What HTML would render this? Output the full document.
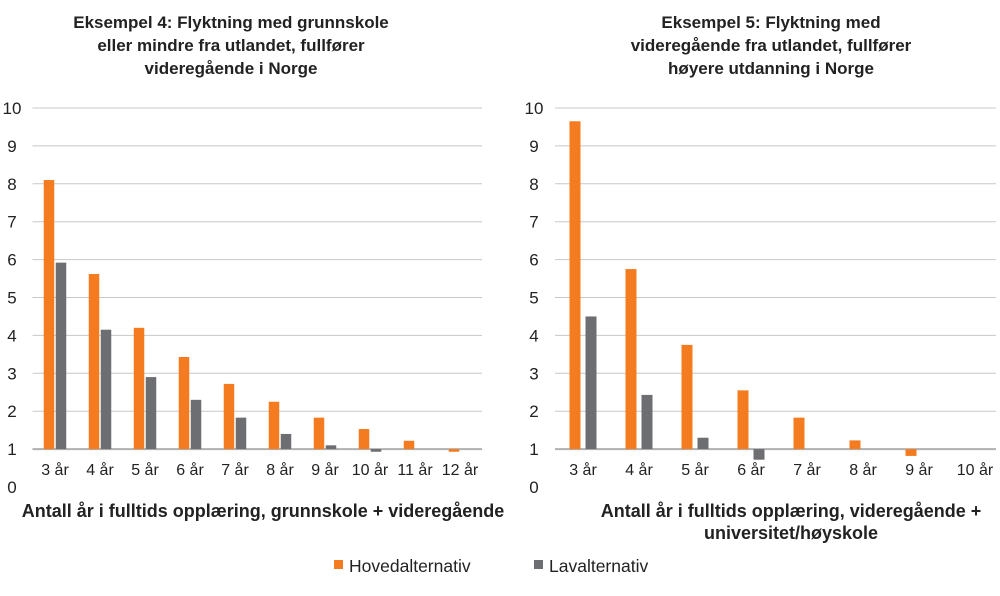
<!DOCTYPE html>
<html><head><meta charset="utf-8"><style>
body{margin:0;background:#fff;}
svg text{font-family:"Liberation Sans",sans-serif;fill:#222;}
</style></head><body>
<svg width="1000" height="591">
<g id="left"></g>
<g id="right"></g>
<g>
<rect x="334" y="560" width="9" height="9" fill="#f47b20"/>
<text x="349" y="572" font-size="17.5">Hovedalternativ</text>
<rect x="534" y="560" width="9" height="9" fill="#6d6e71"/>
<text x="549" y="572" font-size="17.5">Lavalternativ</text>
</g>
</svg>
<script>
const leftCategories=["3 år","4 år","5 år","6 år","7 år","8 år","9 år","10 år","11 år","12 år"];
const leftHoved=[8.1,5.62,4.2,3.43,2.72,2.25,1.83,1.53,1.22,0.93];
const leftLav=[5.92,4.15,2.9,2.3,1.83,1.4,1.1,0.93,null,null];
const rightCategories=["3 år","4 år","5 år","6 år","7 år","8 år","9 år","10 år"];
const rightHoved=[9.65,5.75,3.75,2.55,1.83,1.23,0.82,null];
const rightLav=[4.5,2.43,1.3,0.72,null,null,null,null];
const yTicks=[0,1,2,3,4,5,6,7,8,9,10];
const NS="http://www.w3.org/2000/svg";
function mk(p,tag,a){const e=document.createElementNS(NS,tag);for(const k in a)e.setAttribute(k,a[k]);p.appendChild(e);return e;}
function y(v){return 487-v*37.9;}
function chart(g,o){
  const {x0,x1,gridEnd,labelX,cats,hov,lav,title,titleX,xtitle,xtitleX,bw,gap}=o;
  yTicks.forEach(t=>{
    if(t>=1){const l=mk(g,"line",{x1:x0,x2:gridEnd,y1:y(t),y2:y(t),stroke:t==1?"#b0b0b0":"#c8c8c8","stroke-width":t==1?2:1});
    }
    const tx=mk(g,"text",{x:labelX,y:y(t)+6,"font-size":17,"text-anchor":"middle"});tx.textContent=t;
    
  });
  const w=(x1-x0)/cats.length;
  cats.forEach((c,i)=>{
    const cx=x0+w*(i+0.5);
    [[hov[i],"#f47b20",-gap/2-bw],[lav[i],"#6d6e71",gap/2]].forEach(([v,col,off],k)=>{
      if(v==null)return;
      const r=mk(g,"rect",{x:cx+off,width:bw,y:Math.min(y(v),y(1)),height:Math.abs(y(v)-y(1)),fill:col});
      
    });
    const t=mk(g,"text",{x:cx,y:475,"font-size":16,"text-anchor":"middle"});t.textContent=c;
    
  });
  title.forEach((s,i)=>{const t=mk(g,"text",{x:titleX,y:28+i*23,"font-size":17,"font-weight":"bold","text-anchor":"middle"});t.textContent=s;
    });
  xtitle.forEach((s,i)=>{const t=mk(g,"text",{x:xtitleX,y:517+i*22,"font-size":18,"font-weight":"bold","text-anchor":"middle"});t.textContent=s;
    });
}
chart(document.getElementById("left"),{x0:32.5,x1:482.5,gridEnd:482,labelX:12,cats:leftCategories,hov:leftHoved,lav:leftLav,bw:10.5,gap:1.5,
 title:["Eksempel 4: Flyktning med grunnskole","eller mindre fra utlandet, fullfører","videregående i Norge"],titleX:231,
 xtitle:["Antall år i fulltids opplæring, grunnskole + videregående"],xtitleX:263});
chart(document.getElementById("right"),{x0:555,x1:1003,gridEnd:996,labelX:534,cats:rightCategories,hov:rightHoved,lav:rightLav,bw:11,gap:5,
 title:["Eksempel 5: Flyktning med","videregående fra utlandet, fullfører","høyere utdanning i Norge"],titleX:771,
 xtitle:["Antall år i fulltids opplæring, videregående +","universitet/høyskole"],xtitleX:791});
</script>
</body></html>
